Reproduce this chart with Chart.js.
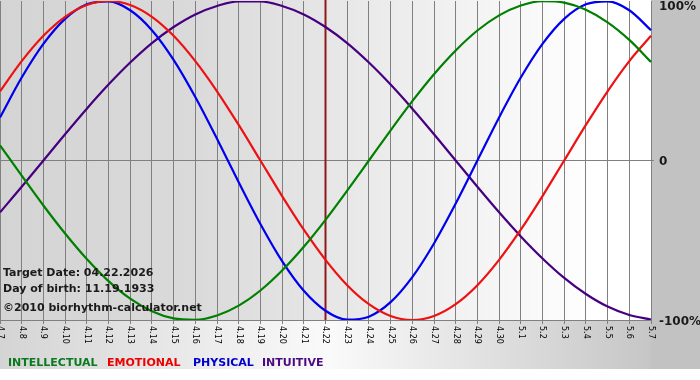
<!DOCTYPE html>
<html>
<head>
<meta charset="utf-8">
<script src="https://cdn.jsdelivr.net/npm/chart.js@4.4.1/dist/chart.umd.min.js"></script>
<style>
  html, body { margin: 0; padding: 0; background: #ffffff; }
  #wrap { width: 700px; height: 380px; position: relative; }
</style>
</head>
<body>
<div id="wrap"><canvas id="c" width="700" height="380"></canvas></div>
<script>
// ---- data ----
const dayLabels = ['4.7','4.8','4.9','4.10','4.11','4.12','4.13','4.14','4.15','4.16','4.17','4.18','4.19','4.20','4.21','4.22','4.23','4.24','4.25','4.26','4.27','4.28','4.29','4.30','5.1','5.2','5.3','5.4','5.5','5.6','5.7'];
const intellectual = [0.095,-0.095,-0.282,-0.458,-0.618,-0.756,-0.866,-0.945,-0.990,-0.999,-0.972,-0.910,-0.815,-0.690,-0.541,-0.372,-0.189,0.000,0.189,0.372,0.541,0.690,0.815,0.910,0.972,0.999,0.990,0.945,0.866,0.756,0.618];
const emotional = [0.434,0.623,0.782,0.901,0.975,1.000,0.975,0.901,0.782,0.623,0.434,0.223,0.000,-0.223,-0.434,-0.623,-0.782,-0.901,-0.975,-1.000,-0.975,-0.901,-0.782,-0.623,-0.434,-0.223,0.000,0.223,0.434,0.623,0.782];
const physical = [0.270,0.520,0.731,0.888,0.979,0.998,0.942,0.817,0.631,0.398,0.136,-0.136,-0.398,-0.631,-0.817,-0.942,-0.998,-0.979,-0.888,-0.731,-0.520,-0.270,0.000,0.270,0.520,0.731,0.888,0.979,0.998,0.942,0.817];
const intuitive = [-0.325,-0.165,0.000,0.165,0.325,0.476,0.614,0.736,0.837,0.916,0.969,0.997,0.997,0.969,0.916,0.837,0.736,0.614,0.476,0.325,0.165,0.000,-0.165,-0.325,-0.476,-0.614,-0.736,-0.837,-0.916,-0.969,-0.997];
const yTickValues = [1, 0, -1];
const yTickLabels = ['100%', '0', '-100%'];
const targetIndex = 15; // 4.22
const infoLines = ['Target Date: 04.22.2026', 'Day of birth: 11.19.1933', '\u00A92010 biorhythm-calculator.net'];
const legendNames = ['INTELLECTUAL', 'EMOTIONAL', 'PHYSICAL', 'INTUITIVE'];

// ---- styles ----
const colIntel = '#008000', colEmo = '#ee1111', colPhys = '#0000ee', colIntu = '#46007f';
const legendColors = ['#0a7a1e', '#ee0000', '#0000cc', '#4b0a82'];
const legendX = [8, 107, 193, 262];

const bgPlugin = {
  id: 'bg',
  beforeDraw(chart) {
    const ctx = chart.ctx, a = chart.chartArea;
    ctx.save();
    ctx.fillStyle = '#ffffff';
    ctx.fillRect(0, 0, chart.width, chart.height);
    const g = ctx.createLinearGradient(0, 0, chart.width, 0);
    g.addColorStop(0, '#d4d4d4');
    g.addColorStop(0.47, '#fafafa');
    g.addColorStop(1, '#bebebe');
    ctx.fillStyle = g;
    ctx.fillRect(0, 0, chart.width, 369);
    ctx.fillStyle = '#c2c2c2';
    ctx.fillRect(a.right, 0, chart.width - a.right, 369);
    const g2 = ctx.createLinearGradient(a.left, 0, a.right, 0);
    g2.addColorStop(0, '#d4d4d4');
    g2.addColorStop(0.3, '#dadada');
    g2.addColorStop(0.62, '#ededed');
    g2.addColorStop(0.92, '#ffffff');
    g2.addColorStop(1, '#ffffff');
    ctx.fillStyle = g2;
    ctx.fillRect(a.left, 0, a.right - a.left, a.bottom);
    ctx.restore();
  },
  beforeDatasetsDraw(chart) {
    const ctx = chart.ctx, a = chart.chartArea;
    const x = chart.scales.x.getPixelForValue(targetIndex);
    ctx.save();
    ctx.strokeStyle = '#8e1b1b';
    ctx.lineWidth = 2;
    ctx.beginPath();
    ctx.moveTo(x, 0);
    ctx.lineTo(x, a.bottom);
    ctx.stroke();
    ctx.restore();
  },
  afterDraw(chart) {
    const ctx = chart.ctx, a = chart.chartArea;
    const xs = chart.scales.x, ys = chart.scales.y;
    ctx.save();
    // x tick labels, rotated clockwise
    ctx.fillStyle = '#000000';
    ctx.font = '8px "DejaVu Sans", Verdana, sans-serif';
    ctx.textAlign = 'left';
    ctx.textBaseline = 'middle';
    dayLabels.forEach((lab, i) => {
      const x = xs.getPixelForValue(i);
      ctx.save();
      ctx.translate(x, a.bottom + 6);
      ctx.rotate(Math.PI / 2);
      ctx.fillText(lab, 0, 0);
      ctx.restore();
    });
    // y labels on the right
    ctx.font = 'bold 12px "DejaVu Sans", Verdana, sans-serif';
    ctx.fillStyle = '#1a1a1a';
    ctx.textBaseline = 'middle';
    yTickValues.forEach((v, i) => {
      let y = ys.getPixelForValue(v) + 1.5;
      if (v === 1) y = 7;
      ctx.fillText(yTickLabels[i], a.right + 8, y);
    });
    // info text
    ctx.font = 'bold 11px "DejaVu Sans", Verdana, sans-serif';
    ctx.textBaseline = 'alphabetic';
    ctx.fillStyle = '#1a1a1a';
    ctx.fillText(infoLines[0], 3, 276);
    ctx.fillText(infoLines[1], 3, 292);
    ctx.fillText(infoLines[2], 3, 311);
    // legend
    legendNames.forEach((n, i) => {
      ctx.fillStyle = legendColors[i];
      ctx.fillText(n, legendX[i], 366);
    });
    ctx.restore();
  }
};

new Chart(document.getElementById('c'), {
  type: 'line',
  data: {
    labels: dayLabels,
    datasets: [
      { label: 'INTELLECTUAL', data: intellectual, borderColor: colIntel },
      { label: 'EMOTIONAL', data: emotional, borderColor: colEmo },
      { label: 'PHYSICAL', data: physical, borderColor: colPhys },
      { label: 'INTUITIVE', data: intuitive, borderColor: colIntu }
    ]
  },
  options: {
    responsive: false,
    animation: false,
    devicePixelRatio: 1,
    layout: { padding: { top: 1, left: 0, right: 0, bottom: 0 } },
    elements: {
      line: { borderWidth: 2.2, cubicInterpolationMode: 'monotone', fill: false },
      point: { radius: 0, hoverRadius: 0 }
    },
    plugins: { legend: { display: false }, tooltip: { enabled: false } },
    scales: {
      x: {
        type: 'category',
        offset: false,
        ticks: { display: false, autoSkip: false },
        grid: { color: '#808080', lineWidth: 1, tickLength: 4, drawTicks: true },
        border: { color: '#808080', width: 1 },
        afterFit(s) { s.height = 60; }
      },
      y: {
        position: 'right',
        min: -1, max: 1,
        afterBuildTicks(s) { s.ticks = yTickValues.map(v => ({ value: v })); },
        ticks: { display: false },
        grid: {
          color: (c) => (c.tick && c.tick.value === 0 ? '#808080' : 'rgba(0,0,0,0)'),
          tickLength: 3, drawTicks: true
        },
        border: { color: '#808080', width: 1 },
        afterFit(s) { s.width = 49; }
      }
    }
  },
  plugins: [bgPlugin]
});
</script>
</body>
</html>
